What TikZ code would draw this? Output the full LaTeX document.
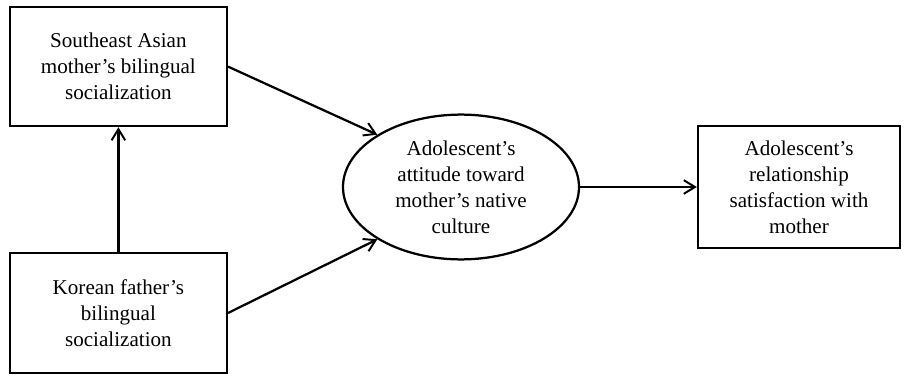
\documentclass[tikz,border=0pt]{standalone}
\usepackage{fontspec}
\setmainfont{Liberation Serif}
\usetikzlibrary{arrows.meta,shapes.geometric}
\tikzset{
	>={Straight Barb[length=2.8mm,width=3.4mm,line width=1.4pt]},
	varbox/.style={draw, line width=1.6pt, minimum width=5.425cm, minimum height=2.975cm, align=center, font=\fontsize{15}{18.5}\selectfont},
	latent/.style={draw, ellipse, line width=1.6pt, minimum width=5.9cm, minimum height=3.62cm, inner sep=0pt, align=center, font=\fontsize{15}{18.5}\selectfont},
	link/.style={->, line width=1.6pt}
}
\begin{document}
\begin{tikzpicture}
	\useasboundingbox (0, 0) rectangle (22.65, 9.375);

	\node[varbox] (mother) at (2.96, 7.71) {Southeast Asian\\mother’s bilingual\\socialization};
	\node[varbox, minimum height=3cm] (father) at (2.96, 1.55) {Korean father’s\\bilingual\\socialization};
	\node[latent] (attitude) at (11.525, 4.7) {Adolescent’s\\attitude toward\\mother’s native\\culture};
	\node[varbox, minimum width=5.05cm, minimum height=3.05cm] (satisfaction) at (19.975, 4.7) {Adolescent’s\\relationship\\satisfaction with\\mother};

	\draw[link] (father) -- (mother);
	\draw[link] (mother.east) -- (attitude.148);
	\draw[link] (father.east) -- (attitude.212);
	\draw[link] (attitude) -- (satisfaction);

\end{tikzpicture}
\end{document}
